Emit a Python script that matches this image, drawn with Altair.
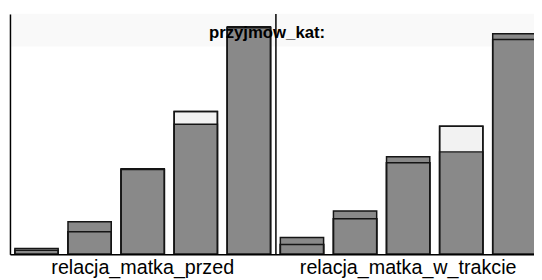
import altair as alt
import pandas as pd

# ---- data ----
panels = ["relacja_matka_przed", "relacja_matka_w_trakcie"]
categories = ["1", "2", "3", "4", "5"]
gray_przed = [6, 33, 87, 132, 231]
light_przed = [4, 23, 86, 145, 230]
gray_trakcie = [17, 44, 99, 104, 224]
light_trakcie = [10, 36, 93, 130, 218]
title_text = "przyjmow_kat:"

rows = []
for p, gv, lv in [(panels[0], gray_przed, light_przed),
                  (panels[1], gray_trakcie, light_trakcie)]:
    for c, g, l in zip(categories, gv, lv):
        rows.append({"panel": p, "cat": c, "key": p + "|" + c, "gray": g, "light": l})
df = pd.DataFrame(rows)
order = list(df["key"])

W, H = 539, 244
STROKE = "#151515"

xscale = alt.Scale(domain=order, paddingInner=0.185, paddingOuter=0.0928)
xaxis = alt.Axis(labels=False, ticks=False, title=None, grid=False,
                 domainColor="black", domainWidth=1.5, zindex=1)
yscale = alt.Scale(domain=[0, H], nice=False, zero=True)
yaxis = alt.Axis(labels=False, ticks=False, title=None, grid=False,
                 domainColor="black", domainWidth=1.5, zindex=1)


def xenc(**kw):
    return alt.X("key:N", scale=xscale, axis=xaxis, sort=order, **kw)


header = alt.Chart(pd.DataFrame({"a": [0]})).mark_rect(color="#f9f9f9").encode(
    x=alt.value(0), x2=alt.value(W), y=alt.value(0), y2=alt.value(33)
)

light_bars = alt.Chart(df).mark_bar(
    fill="#f2f2f2", stroke=STROKE, strokeWidth=1.5
).encode(x=xenc(), y=alt.Y("light:Q", scale=yscale, axis=yaxis))

gray_bars = alt.Chart(df).mark_bar(
    fill="#898989", stroke=STROKE, strokeWidth=1.5
).encode(x=xenc(), y=alt.Y("gray:Q", scale=yscale, axis=yaxis))

light_outline = alt.Chart(df).mark_bar(
    fillOpacity=0, stroke=STROKE, strokeWidth=1.5
).encode(x=xenc(), y=alt.Y("light:Q", scale=yscale, axis=yaxis))

divider = alt.Chart(pd.DataFrame({"key": [panels[1] + "|1"]})).mark_rule(
    color="black", strokeWidth=1.5, xOffset=-4.5
).encode(x=xenc(bandPosition=0), y=alt.value(0), y2=alt.value(H))

labels_df = pd.DataFrame({"key": [p + "|3" for p in panels], "panel": panels})
labels = alt.Chart(labels_df).mark_text(
    font="Liberation Sans", fontSize=20, baseline="alphabetic", align="center", color="black"
).encode(x=xenc(), y=alt.value(264), text="panel:N")

chart = alt.layer(header, light_bars, gray_bars, light_outline, divider, labels).properties(
    width=W, height=H,
    autosize="none",
    padding={"left": 2, "top": 4, "right": -7, "bottom": 24},
    title=alt.TitleParams(
        title_text, font="Liberation Sans", fontSize=17, fontWeight="bold",
        color="black", offset=-42, baseline="alphabetic", dx=-8.5,
        frame="group", anchor="middle"
    ),
).configure_view(stroke=None).configure(background="white")

chart.save("out.html", embed_options={"renderer": "svg", "actions": False})
